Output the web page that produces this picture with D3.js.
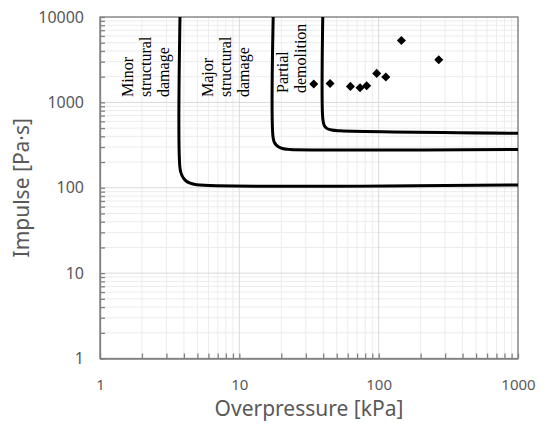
<!DOCTYPE html>
<html>
<head>
<meta charset="utf-8">
<script src="https://cdn.jsdelivr.net/npm/d3@7"></script>
<style>
  body { margin: 0; background: #fff; }
  svg { display: block; }
  .tick text { font-family: "Noto Sans", sans-serif; fill: #595959; }
  .xax .tick text { font-size: 15px; }
  .yax .tick text { font-size: 16px; }
</style>
</head>
<body>
<svg id="chart" width="546" height="426"></svg>
<script>
// damage threshold curves, [overpressure kPa, impulse Pa·s]
var minorCurve = [[3.75, 10000], [3.75, 170], [3.86, 141], [4.08, 123], [4.43, 113], [4.94, 108.5], [1000, 108]];
var majorCurve = [[17.5, 10000], [17.5, 379], [18.0, 331], [19.05, 302], [20.7, 286], [23.1, 281], [1000, 281]];
var partialCurve = [[39.7, 10000], [39.7, 650], [40.6, 542], [42.4, 496], [46.1, 474], [52.8, 465], [1000, 434]];

// measured points
var pressure = [34.2, 44.8, 62.7, 73.5, 82, 96.8, 112.5, 145.6, 270];
var impulse = [1637, 1668, 1539, 1483, 1565, 2186, 1978, 5320, 3157];

var xTickLabels = [1, 10, 100, 1000];
var yTickLabels = [1, 10, 100, 1000, 10000];

var zoneLabels = [
    ["Minor", "structural", "damage"],
    ["Major", "structural", "damage"],
    ["Partial", "demolition"]
];

var plotL = 100, plotR = 518, plotT = 17, plotB = 358.5;
var svg = d3.select("#chart");

var x = d3.scaleLog().domain([1, 1000]).range([plotL, plotR]);
var y = d3.scaleLog().domain([1, 10000]).range([plotB, plotT]);

// grid, minor first then decades
var grid = svg.append("g");
var xMinor = x.ticks().filter(function(d) { return xTickLabels.indexOf(d) < 0; });
var yMinor = y.ticks().filter(function(d) { return yTickLabels.indexOf(d) < 0; });

grid.selectAll("line.xminor").data(xMinor).enter().append("line")
    .attr("x1", function(d) { return x(d); }).attr("x2", function(d) { return x(d); })
    .attr("y1", plotT).attr("y2", plotB)
    .attr("stroke", "#ececec").attr("stroke-width", 1);
grid.selectAll("line.yminor").data(yMinor).enter().append("line")
    .attr("y1", function(d) { return y(d); }).attr("y2", function(d) { return y(d); })
    .attr("x1", plotL).attr("x2", plotR)
    .attr("stroke", "#ececec").attr("stroke-width", 1);
grid.selectAll("line.xmajor").data(xTickLabels).enter().append("line")
    .attr("x1", function(d) { return x(d); }).attr("x2", function(d) { return x(d); })
    .attr("y1", plotT).attr("y2", plotB)
    .attr("stroke", "#d9d9d9").attr("stroke-width", 1);
grid.selectAll("line.ymajor").data(yTickLabels).enter().append("line")
    .attr("y1", function(d) { return y(d); }).attr("y2", function(d) { return y(d); })
    .attr("x1", plotL).attr("x2", plotR)
    .attr("stroke", "#d9d9d9").attr("stroke-width", 1);

// frame
svg.append("rect")
    .attr("x", plotL).attr("y", plotT)
    .attr("width", plotR - plotL).attr("height", plotB - plotT)
    .attr("fill", "none").attr("stroke", "#808080").attr("stroke-width", 1.3);

// axes with inward ticks
svg.append("g")
    .attr("class", "xax")
    .attr("transform", "translate(0," + plotB + ")")
    .call(d3.axisBottom(x).tickValues(x.ticks()).tickSizeInner(-5).tickSizeOuter(0)
        .tickPadding(21).tickFormat(function(d) { return xTickLabels.indexOf(d) >= 0 ? d : ""; }));
svg.append("g")
    .attr("class", "yax")
    .attr("transform", "translate(" + plotL + ",0)")
    .call(d3.axisLeft(y).tickValues(y.ticks()).tickSizeInner(-5).tickSizeOuter(0)
        .tickPadding(16).tickFormat(function(d) { return yTickLabels.indexOf(d) >= 0 ? d : ""; }));
svg.selectAll(".domain").attr("stroke", "#808080").attr("stroke-width", 1.3);
svg.selectAll(".tick line").attr("stroke", "#808080").attr("stroke-width", 1.3);

// threshold curves
var line = d3.line()
    .x(function(d) { return x(d[0]); })
    .y(function(d) { return y(d[1]); })
    .curve(d3.curveCatmullRom.alpha(0.5));

svg.selectAll("path.curve")
    .data([minorCurve, majorCurve, partialCurve])
    .enter().append("path")
    .attr("class", "curve")
    .attr("d", line)
    .attr("fill", "none")
    .attr("stroke", "#000")
    .attr("stroke-width", 3);

// diamonds
svg.selectAll("path.pt")
    .data(pressure)
    .enter().append("path")
    .attr("class", "pt")
    .attr("d", d3.symbol().type(d3.symbolDiamond2).size(52))
    .attr("transform", function(d, i) { return "translate(" + x(d) + "," + y(impulse[i]) + ")"; })
    .attr("fill", "#000");

// zone labels (rotated)
var labelPos = [[133, 97], [213, 97], [288, 93]];
zoneLabels.forEach(function(lines, k) {
    lines.forEach(function(t, j) {
        svg.append("text")
            .attr("transform", "translate(" + (labelPos[k][0] + j * 18) + "," + labelPos[k][1] + ") rotate(-90)")
            .attr("font-family", "'Liberation Serif', 'Times New Roman', serif")
            .attr("font-size", 16)
            .attr("fill", "#000")
            .text(t);
    });
});

// axis titles
svg.append("text")
    .attr("x", (plotL + plotR) / 2).attr("y", 416)
    .attr("text-anchor", "middle")
    .attr("font-family", "'Noto Sans', sans-serif").attr("font-size", 21)
    .attr("fill", "#595959")
    .text("Overpressure [kPa]");
svg.append("text")
    .attr("transform", "translate(29," + (plotT + plotB) / 2 + ") rotate(-90)")
    .attr("text-anchor", "middle")
    .attr("font-family", "'Noto Sans', sans-serif").attr("font-size", 21)
    .attr("fill", "#595959")
    .text("Impulse [Pa·s]");
</script>
</body>
</html>
